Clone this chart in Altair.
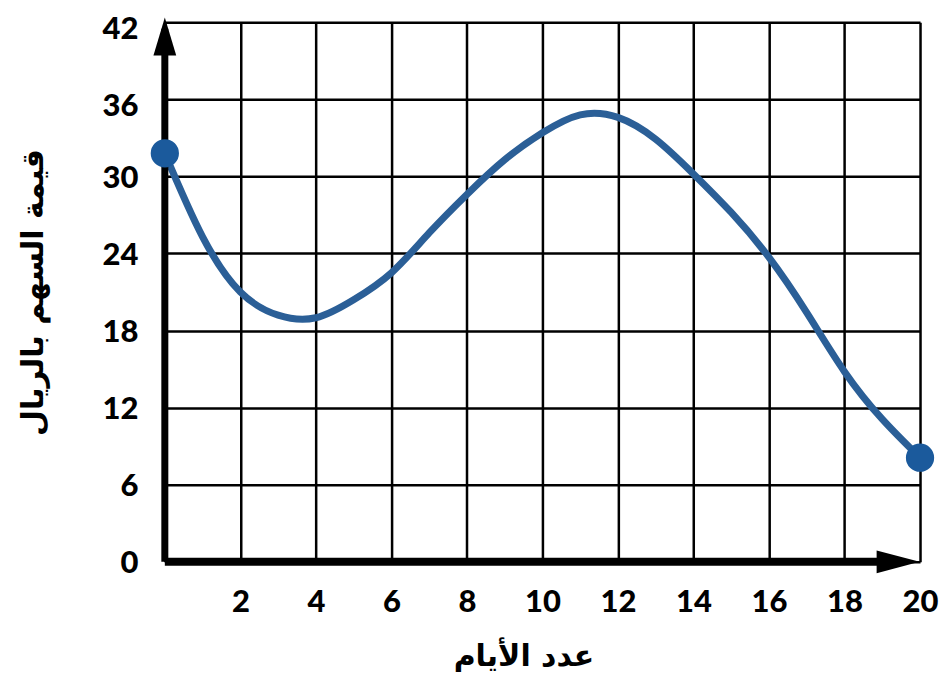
import altair as alt
import pandas as pd

days = [0, 1, 2, 3, 4, 5, 6, 7, 8, 9, 10, 11, 12, 13, 14, 15, 16, 17, 18, 19, 20]
price = [31.8, 25.3, 21.0, 19.2, 19.0, 20.4, 22.5, 25.6, 28.6, 31.3, 33.4, 34.8,
         34.6, 32.9, 30.2, 27.2, 23.7, 19.4, 14.8, 11.1, 8.1]
end_days = [0, 20]
end_price = [31.8, 8.1]
x_ticks = [0, 2, 4, 6, 8, 10, 12, 14, 16, 18, 20]
y_ticks = [0, 6, 12, 18, 24, 30, 36, 42]
x_title = "عدد الأيام"
y_title = "قيمة السهم بالريال"

curve = pd.DataFrame({"d": days, "p": price})
ends = pd.DataFrame({"d": end_days, "p": end_price})
xaxis_line = pd.DataFrame({"d": [0], "d2": [19.0], "p": [0]})
yaxis_line = pd.DataFrame({"d": [0], "p": [0], "p2": [41.5]})
arrow_up = pd.DataFrame({"d": [0], "p": [40.9]})
arrow_right = pd.DataFrame({"d": [19.42], "p": [0]})

xs = alt.Scale(domain=[0, 20], nice=False, zero=False)
ys = alt.Scale(domain=[0, 42], nice=False, zero=False)

num_font = "Lato"

x_axis = alt.Axis(values=x_ticks, grid=True, gridColor="black", gridWidth=2.5, gridOpacity=1,
                  domain=False, ticks=False, labelFont=num_font, labelFontSize=31,
                  labelFontWeight=900, labelColor="black", labelPadding=26,
                  labelExpr="datum.value == 0 ? '' : datum.label", labelFlush=False,
                  title=x_title, titleFont="DejaVu Sans", titleFontSize=30,
                  titleFontWeight="bold", titleColor="black", titlePadding=24,
                  titleX=359)
y_axis = alt.Axis(values=y_ticks, grid=True, gridColor="black", gridWidth=2.5, gridOpacity=1,
                  domain=False, ticks=False, labelFont=num_font, labelFontSize=31,
                  labelFontWeight=900, labelColor="black", labelPadding=27,
                  labelFlush=False, labelBaseline="middle",
                  labelOffset=alt.ExprRef("datum.value >= 36 ? 7 : 2"),
                  title=y_title, titleFont="DejaVu Sans", titleFontSize=30,
                  titleFontWeight="bold", titleColor="black", titlePadding=54)

line = alt.Chart(curve).mark_line(interpolate="natural", color="#2B5F97", strokeWidth=7,
                                  strokeCap="round").encode(
    x=alt.X("d:Q", scale=xs, axis=x_axis),
    y=alt.Y("p:Q", scale=ys, axis=y_axis),
)

xline = alt.Chart(xaxis_line).mark_rule(color="black", strokeWidth=8).encode(
    x=alt.X("d:Q", scale=xs), x2="d2:Q", y=alt.Y("p:Q", scale=ys))
yline = alt.Chart(yaxis_line).mark_rule(color="black", strokeWidth=7).encode(
    x=alt.X("d:Q", scale=xs), y=alt.Y("p:Q", scale=ys), y2="p2:Q")

aup = alt.Chart(arrow_up).mark_point(shape="M0,-1L0.6,1L-0.6,1Z", filled=True, color="black",
                                     size=1444, opacity=1).encode(
    x=alt.X("d:Q", scale=xs), y=alt.Y("p:Q", scale=ys))
aright = alt.Chart(arrow_right).mark_point(shape="M1,0L-1,-0.53L-1,0.53Z", filled=True,
                                           color="black", size=1849, opacity=1).encode(
    x=alt.X("d:Q", scale=xs), y=alt.Y("p:Q", scale=ys))

dots = alt.Chart(ends).mark_circle(color="#1B5A9C", size=800, opacity=1).encode(
    x=alt.X("d:Q", scale=xs), y=alt.Y("p:Q", scale=ys))

chart = alt.layer(line, xline, yline, aup, aright, dots).properties(
    width=756, height=540,
    autosize=alt.AutoSizeParams(type="none"),
    padding={"left": 157, "top": 14, "right": 20, "bottom": 110},
).configure_view(stroke=None).configure(background="white")

chart.save("out.html", embed_options={"renderer": "svg", "actions": False})
